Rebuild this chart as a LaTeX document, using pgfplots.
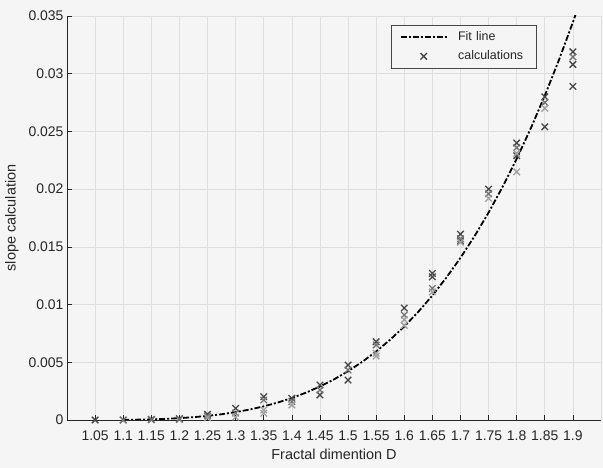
\documentclass[border=0pt]{standalone}
\usepackage{fontspec}
\setmainfont{Liberation Sans}
\usepackage{pgfplots}
\pgfplotsset{compat=1.18}
\definecolor{bgc}{RGB}{245,245,245}
\definecolor{txt}{RGB}{38,38,38}
\definecolor{gridc}{RGB}{222,222,222}
\definecolor{mkdark}{RGB}{70,70,70}
\definecolor{mkmid}{RGB}{115,115,115}
\definecolor{mklight}{RGB}{160,160,160}
\pgfplotsset{
  fitleg/.style={legend image code/.code={\draw[##1] (0bp,0bp) -- (46bp,0bp);}},
  mkleg/.style={legend image code/.code={\draw[##1] plot coordinates {(23bp,0bp)};}},
}
\begin{document}
\begin{tikzpicture}
\fill[bgc] (-67bp,-48bp) rectangle (536bp,420bp);
\begin{axis}[
  name=ax, at={(0,0)}, anchor=south west,
  scale only axis, width=534bp, height=404bp,
  xmin=1, xmax=1.95, ymin=0, ymax=0.035,
  axis x line*=bottom, axis y line*=left,
  axis line style={draw=txt, line width=0.6bp},
  xtick={1.05,1.1,1.15,1.2,1.25,1.3,1.35,1.4,1.45,1.5,1.55,1.6,1.65,1.7,1.75,1.8,1.85,1.9},
  xticklabels={1.05,1.1,1.15,1.2,1.25,1.3,1.35,1.4,1.45,1.5,1.55,1.6,1.65,1.7,1.75,1.8,1.85,1.9},
  ytick={0,0.005,0.01,0.015,0.02,0.025,0.03,0.035},
  yticklabels={0,0.005,0.01,0.015,0.02,0.025,0.03,0.035},
  extra x ticks={1.95}, extra x tick labels={},
  extra x tick style={major tick length=0pt},
  scaled y ticks=false,
  tick align=inside, major tick length=5bp,
  tick style={draw=txt, line width=0.6bp},
  grid=major, grid style={draw=gridc, line width=0.6bp},
  ticklabel style={font=\fontsize{14}{16}\selectfont, text=txt},
  xticklabel style={yshift=-7bp},
  xlabel={Fractal dimention D},
  ylabel={slope calculation},
  label style={font=\fontsize{14.5}{17}\selectfont, text=txt},
  xlabel style={at={(axis description cs:0.5,0)}, anchor=north, yshift=-25.5bp},
  ylabel style={at={(axis description cs:-0.084,0.5)}, anchor=south},
  clip mode=individual,
  legend style={at={(0.880,0.9777)}, anchor=north east, draw=txt!85, fill=bgc,
    line width=0.6bp, inner xsep=8.5bp, inner ysep=2.2bp, column sep=7.5bp,
    font=\fontsize{12.5}{14}\selectfont, text=txt,
    nodes={text width=67bp, align=left, text height=9bp, text depth=3bp, inner ysep=3.6bp, inner xsep=3bp}},
  legend cell align=left,
]
\addplot[black, line width=1.8bp, dash pattern=on 6bp off 2bp on 2bp off 2bp, fitleg]
coordinates {
(1.100,0.0000135) (1.125,0.0000300) (1.150,0.0000575) (1.175,0.0000997)
(1.200,0.0001604) (1.225,0.0002443) (1.250,0.0003558) (1.275,0.0005000)
(1.300,0.000682) (1.325,0.000908) (1.350,0.001183) (1.375,0.001513)
(1.400,0.001905) (1.425,0.002366) (1.450,0.002902) (1.475,0.003519)
(1.500,0.004226) (1.525,0.005031) (1.550,0.005940) (1.575,0.006962)
(1.600,0.008100) (1.625,0.009375) (1.650,0.010785) (1.675,0.012342)
(1.700,0.014050) (1.725,0.015925) (1.750,0.017974) (1.775,0.020207)
(1.800,0.022634) (1.825,0.025257) (1.850,0.028101) (1.875,0.031168)
(1.900,0.034460) (1.905,0.035150)
};
\addlegendentry{Fit line}
\addplot[only marks, mark=x, mark size=4.6bp, mkdark, mark options={line width=1.3bp}, mkleg]
coordinates {
(1.05,0) (1.1,0) (1.15,0.00005) (1.2,0.00012) (1.25,0.0005) (1.3,0.00101)
(1.35,0.00202) (1.4,0.00188) (1.45,0.00217) (1.45,0.00303) (1.5,0.00346) (1.5,0.00476)
(1.55,0.00678) (1.6,0.0097) (1.65,0.0127) (1.65,0.0124) (1.7,0.0161) (1.7,0.0155)
(1.75,0.0200) (1.8,0.0240) (1.8,0.0229) (1.85,0.0254) (1.85,0.0280)
(1.9,0.0319) (1.9,0.0308) (1.9,0.0289)
};
\addlegendentry{calculations}
\addplot[only marks, mark=x, mark size=4.6bp, mkmid, mark options={line width=1.3bp}, forget plot]
coordinates {
(1.1,0) (1.15,0.00002) (1.2,0.00005) (1.25,0.00035) (1.3,0.0006)
(1.35,0.00173) (1.4,0.00159) (1.45,0.0026) (1.5,0.00433)
(1.55,0.0065) (1.6,0.0091) (1.65,0.0114) (1.7,0.0157)
(1.75,0.0196) (1.8,0.0236) (1.85,0.0275) (1.9,0.03145)
};
\addplot[only marks, mark=x, mark size=4.6bp, mklight, mark options={line width=1.3bp}, forget plot]
coordinates {
(1.25,0.0002) (1.3,0.00025) (1.35,0.00087) (1.35,0.00058) (1.4,0.0013)
(1.55,0.00578) (1.55,0.00554) (1.6,0.0087) (1.6,0.0082) (1.65,0.0111)
(1.7,0.0154) (1.75,0.0192) (1.8,0.0231) (1.8,0.0215) (1.85,0.0270)
};
\end{axis}
\pgfresetboundingbox
\useasboundingbox (-67bp,-48bp) rectangle (536bp,420bp);
\end{tikzpicture}
\end{document}
